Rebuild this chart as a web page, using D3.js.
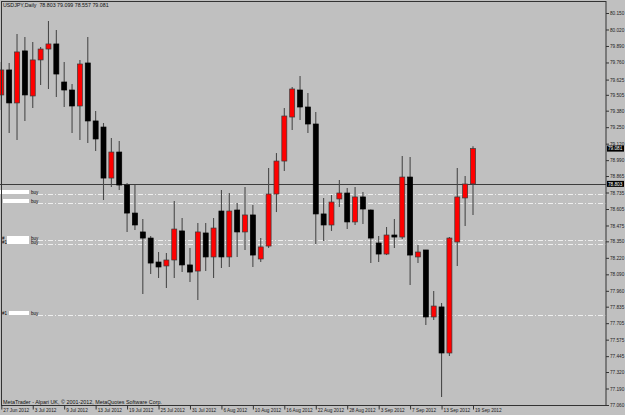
<!DOCTYPE html>
<html>
<head>
<meta charset="utf-8">
<script src="https://cdn.jsdelivr.net/npm/d3@7"></script>
<style>
body { margin: 0; background: #c0c0c0; }
svg { display: block; }
text { font-family: "Liberation Sans", Arial, sans-serif; }
</style>
</head>
<body>
<div id="chart"></div>
<script>
// USDJPY daily bars, 27 Jun 2012 .. 19 Sep 2012
var dates = [
	'2012-06-27','2012-06-28','2012-06-29',
	'2012-07-02','2012-07-03','2012-07-04','2012-07-05','2012-07-06',
	'2012-07-09','2012-07-10','2012-07-11','2012-07-12','2012-07-13',
	'2012-07-16','2012-07-17','2012-07-18','2012-07-19','2012-07-20',
	'2012-07-23','2012-07-24','2012-07-25','2012-07-26','2012-07-27',
	'2012-07-30','2012-07-31','2012-08-01','2012-08-02','2012-08-03',
	'2012-08-06','2012-08-07','2012-08-08','2012-08-09','2012-08-10',
	'2012-08-13','2012-08-14','2012-08-15','2012-08-16','2012-08-17',
	'2012-08-20','2012-08-21','2012-08-22','2012-08-23','2012-08-24',
	'2012-08-27','2012-08-28','2012-08-29','2012-08-30','2012-08-31',
	'2012-09-03','2012-09-04','2012-09-05','2012-09-06','2012-09-07',
	'2012-09-10','2012-09-11','2012-09-12','2012-09-13','2012-09-14',
	'2012-09-17','2012-09-18','2012-09-19'
];
var opens = [
	79.504, 79.701, 79.441, 79.851, 79.496, 79.780, 79.866, 79.906, 79.606, 79.543,
	79.417, 79.756, 79.299, 79.251, 78.849, 79.054, 78.794, 78.573, 78.424, 78.376,
	78.187, 78.156, 78.203, 78.432, 78.164, 78.116, 78.416, 78.227, 78.589, 78.227,
	78.597, 78.424, 78.558, 78.211, 78.313, 78.723, 78.983, 79.330, 79.543, 79.409,
	79.275, 78.566, 78.479, 78.684, 78.731, 78.503, 78.700, 78.597, 78.337, 78.250,
	78.400, 78.384, 78.857, 78.227, 78.282, 77.754, 77.833, 77.470, 78.345, 78.692,
	78.803
];
var highs = [
	79.764, 79.756, 79.985, 79.961, 79.921, 79.882, 80.087, 80.016, 79.764, 79.590,
	79.780, 79.961, 79.378, 79.283, 79.165, 79.141, 78.810, 78.794, 78.526, 78.392,
	78.266, 78.258, 78.668, 78.534, 78.298, 78.495, 78.495, 78.534, 78.755, 78.731,
	78.652, 78.778, 78.637, 78.376, 78.928, 79.046, 79.401, 79.567, 79.653, 79.519,
	79.370, 78.692, 78.715, 78.834, 78.771, 78.778, 78.739, 78.601, 78.392, 78.463,
	78.526, 79.023, 79.015, 78.321, 78.282, 77.959, 77.864, 78.384, 78.928, 78.865,
	79.099
];
var lows = [
	79.385, 79.204, 79.149, 79.299, 79.401, 79.583, 79.551, 79.488, 79.409, 79.204,
	79.149, 79.125, 79.062, 78.676, 78.778, 78.755, 78.424, 78.439, 77.935, 78.093,
	78.061, 77.982, 78.061, 78.108, 78.030, 77.888, 78.116, 78.061, 78.140, 78.148,
	78.227, 78.282, 78.148, 78.187, 78.298, 78.581, 78.905, 79.228, 79.307, 79.204,
	78.329, 78.353, 78.432, 78.621, 78.447, 78.479, 78.487, 78.179, 78.187, 78.242,
	78.298, 78.369, 78.006, 78.179, 77.691, 77.730, 77.123, 77.446, 78.156, 78.471,
	78.557
];
var closes = [
	79.701, 79.441, 79.843, 79.504, 79.780, 79.866, 79.906, 79.669, 79.543, 79.417,
	79.748, 79.299, 79.157, 78.849, 79.054, 78.794, 78.573, 78.479, 78.376, 78.179,
	78.148, 78.203, 78.447, 78.164, 78.108, 78.424, 78.227, 78.455, 78.227, 78.589,
	78.424, 78.558, 78.242, 78.306, 78.723, 78.983, 79.338, 79.551, 79.409, 79.275,
	78.566, 78.479, 78.660, 78.731, 78.503, 78.700, 78.605, 78.376, 78.250, 78.400,
	78.384, 78.857, 78.242, 78.266, 77.754, 77.840, 77.470, 78.376, 78.700, 78.802,
	79.081
];

var priceTicks = ['80.150','80.020','79.890','79.760','79.625','79.505','79.380','79.250',
	'79.120','78.990','78.865','78.735','78.605','78.475','78.350','78.220','78.090',
	'77.960','77.835','77.705','77.575','77.445','77.320','77.190','77.060'];
var dateTicks = ['2012-06-27','2012-07-03','2012-07-09','2012-07-13','2012-07-19','2012-07-25',
	'2012-07-31','2012-08-06','2012-08-10','2012-08-16','2012-08-22','2012-08-28',
	'2012-09-03','2012-09-07','2012-09-13','2012-09-19'];

// pending orders drawn as dash-dot levels
var orderLevels = [78.720, 78.652, 78.361, 78.329, 77.769];
var orderTags = ['', '', '#', '#1', '#1'];
var hLine = 78.803;
var lastPrice = 79.081;
var header = 'USDJPY,Daily  78.803 79.099 78.557 79.081';
var footer = 'MetaTrader - Alpari UK, \u00a9 2001-2012, MetaQuotes Software Corp.';

var W = 625, H = 415;
var svg = d3.select('#chart').append('svg').attr('width', W).attr('height', H);

svg.append('rect').attr('width', W).attr('height', H).attr('fill', '#c0c0c0');

var xScale = d3.scalePoint().domain(dates).range([1.3, 473]);
var yScale = d3.scaleLinear().domain([77.060, 80.150]).range([405, 13]);

var bars = dates.map(function(d, i) {
	return { date: d, o: opens[i], h: highs[i], l: lows[i], c: closes[i] };
});

// order levels
var orders = svg.append('g');
orderLevels.forEach(function(p, i) {
	var yy = Math.round(yScale(p)) + 0.5;
	orders.append('line')
		.attr('x1', 38).attr('x2', 606)
		.attr('y1', yy).attr('y2', yy)
		.attr('stroke', '#eeeeee')
		.attr('stroke-width', 1)
		.attr('stroke-dasharray', '5,2,1,2');
	var bx = orderTags[i] === '' ? (i === 0 ? 0 : 3) : (i === 4 ? 9 : 7);
	if (orderTags[i] !== '') {
		orders.append('text').attr('x', 2).attr('y', yy - 0.5)
			.attr('font-size', '4.5px').attr('fill', '#000').text(orderTags[i]);
	}
	orders.append('rect')
		.attr('x', bx).attr('y', yy - 4.5)
		.attr('width', 29 - bx).attr('height', 4)
		.attr('fill', '#ffffff');
	orders.append('text').attr('x', 31).attr('y', yy - 0.5)
		.attr('font-size', '4.5px').attr('fill', '#000').text('buy');
});

// horizontal line
svg.append('line')
	.attr('x1', 0).attr('x2', 606)
	.attr('y1', Math.round(yScale(hLine)) + 0.5).attr('y2', Math.round(yScale(hLine)) + 0.5)
	.attr('stroke', '#3c3c3c').attr('stroke-width', 1);

// candles
var candles = svg.append('g').selectAll('g').data(bars).enter().append('g');

candles.append('line')
	.attr('x1', function(d) { return xScale(d.date); })
	.attr('x2', function(d) { return xScale(d.date); })
	.attr('y1', function(d) { return yScale(d.h); })
	.attr('y2', function(d) { return yScale(d.l); })
	.attr('stroke', '#4a4a4a')
	.attr('stroke-width', 1.1);

candles.append('rect')
	.attr('x', function(d) { return xScale(d.date) - 2.5; })
	.attr('width', 5)
	.attr('y', function(d) { return yScale(Math.max(d.o, d.c)); })
	.attr('height', function(d) { return Math.max(1, Math.abs(yScale(d.o) - yScale(d.c))); })
	.attr('fill', function(d) { return d.c >= d.o ? '#ff0000' : '#000000'; })
	.attr('stroke', function(d) { return d.c >= d.o ? '#3a3a3a' : '#000000'; })
	.attr('stroke-width', 0.7);

// frame
svg.append('rect')
	.attr('x', 1.5).attr('y', 1.5)
	.attr('width', 604.5).attr('height', 404)
	.attr('fill', 'none')
	.attr('stroke', '#333')
	.attr('stroke-width', 1);

// price axis
var yAxis = d3.axisRight(yScale)
	.tickValues(priceTicks.map(Number))
	.tickSize(3)
	.tickFormat(function(d, i) { return priceTicks[i]; });

var yAxisG = svg.append('g')
	.attr('transform', 'translate(606,0)')
	.call(yAxis);
yAxisG.select('.domain').remove();
yAxisG.selectAll('line').attr('stroke', '#333');
yAxisG.selectAll('text')
	.attr('x', 4)
	.attr('font-family', '"Liberation Sans", Arial, sans-serif')
	.attr('font-size', '4.7px')
	.attr('fill', '#222');

// date axis
var fmt = d3.timeFormat('%-d %b %Y');
var parse = d3.timeParse('%Y-%m-%d');
var xAxis = d3.axisBottom(xScale)
	.tickValues(dateTicks)
	.tickSize(4)
	.tickFormat(function(d) { return fmt(parse(d)); });

var xAxisG = svg.append('g')
	.attr('transform', 'translate(0,405.5)')
	.call(xAxis);
xAxisG.select('.domain').remove();
xAxisG.selectAll('line').attr('stroke', '#333');
xAxisG.selectAll('text')
	.attr('text-anchor', 'start')
	.attr('x', 1.5)
	.attr('y', 6.8)
	.attr('dy', 0)
	.attr('font-family', '"Liberation Sans", Arial, sans-serif')
	.attr('font-size', '4.7px')
	.attr('fill', '#222');

// price tags on the axis
[lastPrice, hLine].forEach(function(p) {
	var yy = yScale(p);
	svg.append('rect')
		.attr('x', 607).attr('y', yy - 3)
		.attr('width', 17).attr('height', 6)
		.attr('fill', '#000');
	svg.append('text')
		.attr('x', 608).attr('y', yy + 1.8)
		.attr('font-size', '4.7px')
		.attr('fill', '#fff')
		.text(p.toFixed(3));
});

svg.append('text')
	.attr('x', 3).attr('y', 6.5)
	.attr('font-size', '5.3px').attr('fill', '#111')
	.attr('xml:space', 'preserve')
	.text(header);

svg.append('text')
	.attr('x', 3).attr('y', 403.8)
	.attr('font-size', '5.4px').attr('fill', '#111')
	.text(footer);
</script>
</body>
</html>
